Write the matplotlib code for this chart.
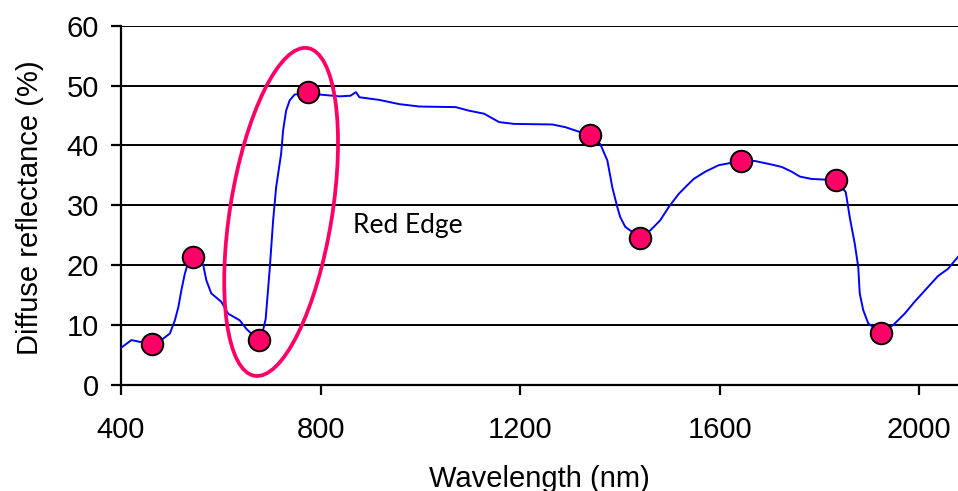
"""
Spectre de reflectance diffuse d'une feuille, avec le red edge entoure
"""
import matplotlib
matplotlib.use('Agg')
import matplotlib.pyplot as plt
from matplotlib.patches import Ellipse
from matplotlib.transforms import ScaledTranslation

# Spectre mesure (longueur d'onde en nm, reflectance en %)
longueurs_onde = [400, 421, 438, 462, 484, 498, 508, 515, 521, 528, 533, 545, 555, 565,
                  571, 581, 601, 615, 638, 651, 661, 676, 683, 690, 698, 705, 711, 721,
                  725, 731, 738, 748, 775, 798, 838, 860, 871, 878, 918, 958, 998, 1071,
                  1098, 1128, 1158, 1188, 1265, 1291, 1318, 1340, 1361, 1375, 1385, 1395,
                  1401, 1411, 1421, 1440, 1461, 1481, 1498, 1518, 1531, 1548, 1571, 1598,
                  1643, 1671, 1705, 1725, 1745, 1761, 1785, 1811, 1833, 1853, 1861, 1871,
                  1878, 1881, 1888, 1898, 1923, 1948, 1971, 1991, 2015, 2038, 2058, 2078]
reflectance = [6.2, 7.5, 7.2, 7.3, 7.7, 8.6, 10.8, 13.0, 15.8, 18.6, 20.0, 21.1, 21.0, 20.0,
               17.5, 15.3, 13.9, 11.9, 10.8, 9.4, 8.6, 7.6, 8.5, 11.0, 19.2, 27.5, 33.0, 38.6,
               42.5, 45.8, 47.5, 48.5, 48.8, 48.5, 48.2, 48.3, 48.9, 48.05, 47.6, 46.9, 46.5, 46.4,
               45.8, 45.3, 43.9, 43.6, 43.5, 43.05, 42.3, 41.8, 40.2, 37.5, 33.0, 29.7,
               28.0, 26.4, 25.8, 24.7, 25.8, 27.5, 29.7, 31.9, 33.0, 34.4, 35.6, 36.7,
               37.4, 37.4, 36.8, 36.4, 35.6, 34.8, 34.4, 34.3, 34.2, 32.2, 28.0, 23.6,
               19.7, 15.3, 12.5, 10.3, 8.7, 10.0, 11.9, 13.9, 16.1, 18.2, 19.4, 21.4]

# Points caracteristiques du spectre
points_x = [462, 545, 676, 775, 1340, 1440, 1643, 1833, 1923]
points_y = [6.8, 21.3, 7.5, 49.0, 41.8, 24.6, 37.4, 34.2, 8.7]

x_ticks = [400, 800, 1200, 1600, 2000]
y_ticks = [0, 10, 20, 30, 40, 50, 60]

ROSE = '#ff0066'
BLEU = '#0000ff'

plt.rcParams['font.family'] = ['Liberation Sans', 'DejaVu Sans']

fig = plt.figure(figsize=(9.58, 4.91), dpi=100)
ax = fig.add_axes([0.1263, 0.2159, 0.8737, 0.7318])

ax.plot(longueurs_onde, reflectance, color=BLEU, linewidth=1.4, zorder=3)
ax.plot(points_x, points_y, 'o', markersize=15.5, markerfacecolor=ROSE,
        markeredgecolor='black', markeredgewidth=1.4, zorder=4, clip_on=False)

# Ellipse autour du red edge (taille en pouces, centre en coordonnees donnees)
ellipse = Ellipse((0, 0), 1.02, 3.32, angle=-9.2, fill=False, edgecolor=ROSE, linewidth=2.7,
                  transform=fig.dpi_scale_trans + ScaledTranslation(721, 28.9, ax.transData),
                  zorder=5)
ax.add_patch(ellipse)
ax.text(866, 25.3, 'Red Edge', fontfamily=['Lato', 'DejaVu Sans'], fontsize=19,
        ha='left', va='baseline', zorder=6)

# Axes
ax.set_xlim(400, 2078)
ax.set_ylim(0, 60)
ax.set_xticks(x_ticks)
ax.set_yticks(y_ticks)
ax.grid(axis='y', color='black', linewidth=1.4)
ax.set_axisbelow(True)
for side in ['top', 'right']:
    ax.spines[side].set_visible(False)
for side in ['left', 'bottom']:
    ax.spines[side].set_linewidth(1.6)
ax.tick_params(axis='both', direction='out', length=7, width=1.6, labelsize=21)
ax.tick_params(axis='x', pad=15)
ax.tick_params(axis='y', pad=9)

ax.set_xlabel('Wavelength (nm)', fontsize=21)
ax.set_ylabel('Diffuse reflectance (%)', fontsize=21)
ax.xaxis.set_label_coords(0.5, -0.222)
ax.yaxis.set_label_coords(-0.092, 0.494)

fig.savefig('out.png', dpi=100)
plt.close(fig)
